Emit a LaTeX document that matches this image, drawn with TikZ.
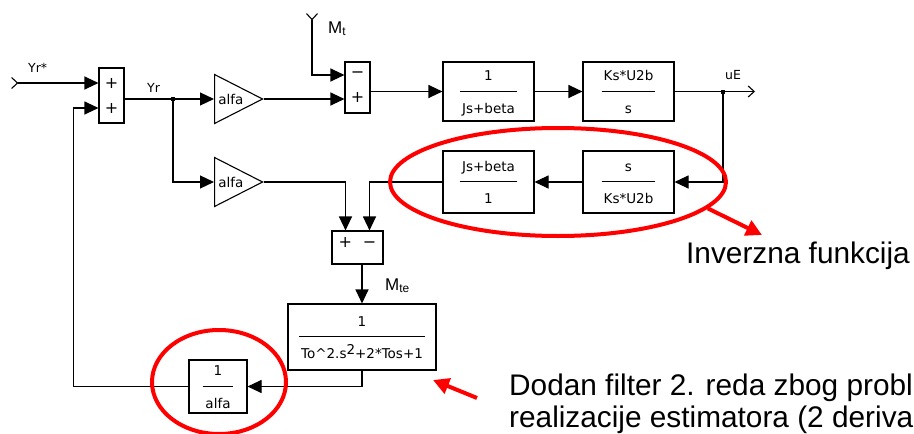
\documentclass[tikz,border=0pt]{standalone}
\usepackage{fontspec}
\setmainfont{DejaVu Sans}
\newfontfamily\annfont{Liberation Sans}
\usetikzlibrary{arrows.meta,shapes.geometric}
\setlength{\arrayrulewidth}{1pt}

\newcommand{\blkfr}[2]{\begin{tabular}{@{\hspace{2pt}}c@{\hspace{2pt}}}\rule[-10pt]{0pt}{25.5pt}#1\\\hline\rule[-4pt]{0pt}{25.5pt}#2\end{tabular}}
\newcommand{\twosgn}[2]{\vbox{\baselineskip=25pt\hbox{#1}\hbox{#2}}}

\tikzset{
  >={Triangle[length=14pt,width=13pt]},
  wire/.style={line width=1.1pt},
  blk/.style={draw, line width=1.1pt, inner sep=0pt, font=\fontsize{13.5}{15}\selectfont},
  sumblk/.style={draw, line width=1.1pt, inner sep=0pt, font=\fontsize{16}{18}\selectfont},
  gain/.style={draw, line width=1.1pt, isosceles triangle, isosceles triangle stretches,
    minimum width=49pt, minimum height=48pt, inner sep=1pt, anchor=west, font=\fontsize{13.5}{15}\selectfont},
  dotsq/.style={fill, minimum size=4pt, inner sep=0pt},
  inport/.style={line width=1.1pt, {Straight Barb[reversed,length=6pt,width=11pt]}->},
  outport/.style={line width=1.1pt, -{Straight Barb[length=6pt,width=11pt]}},
  lbl/.style={anchor=base west, inner sep=0pt, font=\fontsize{12.5}{14}\selectfont},
  mlbl/.style={anchor=base west, inner sep=0pt, font=\annfont\fontsize{17}{19}\selectfont},
  hl/.style={draw=red, line width=4pt, ellipse},
  hlarrow/.style={red, line width=4pt, -{Triangle[length=16pt,width=16pt]}},
  note/.style={anchor=base west, inner sep=0pt, align=left, font=\annfont\fontsize{29.8}{32}\selectfont},
}

\begin{document}
\begin{tikzpicture}[x=1pt,y=-1pt]
\useasboundingbox (0,0) rectangle (914,434);

\node[sumblk, minimum width=25pt, minimum height=55pt] (sumA) at (111.5,95.5) {\twosgn{+}{+}};
\node[gain] (gainA) at (214,99) {alfa};
\node[gain] (gainB) at (214,182) {alfa};
\node[sumblk, minimum width=25pt, minimum height=51pt] (sumB) at (357.5,87.5) {\twosgn{−}{+}};
\node[blk, minimum width=91pt, minimum height=59pt] (blkA) at (488.5,91.5) {\blkfr{1}{Js+beta}};
\node[blk, minimum width=91pt, minimum height=59pt] (blkB) at (628.5,91.5) {\blkfr{Ks*U2b}{s}};
\node[blk, minimum width=91pt, minimum height=62pt] (blkC) at (628.5,182) {\blkfr{s}{Ks*U2b}};
\node[blk, minimum width=91pt, minimum height=62pt] (blkD) at (488.5,182) {\blkfr{Js+beta}{1}};
\node[sumblk, minimum width=51pt, minimum height=33pt, text height=10pt, text depth=10pt] (sumC) at (357.5,247.5) {+\hspace{11pt}−};
\node[blk, minimum width=148pt, minimum height=66pt] (blkE) at (362,337) {\blkfr{1}{To\^{}2.s\raisebox{4pt}{2}+2*Tos+1}};
\node[blk, minimum width=58pt, minimum height=53pt] (blkF) at (218,386.5) {\blkfr{1}{alfa}};

\node[dotsq] (dYr) at (173,99) {};
\node[dotsq] (dUe) at (723,91.5) {};
\coordinate (yrin) at (11,83);
\coordinate (mtin) at (312,13);
\coordinate (ueout) at (755,91.5);

\draw[inport] (yrin) -- (yrin -| sumA.west);
\draw[wire] (sumA.east |- dYr) -- (dYr);
\draw[wire,->] (dYr) -- (gainA.west);
\draw[wire,->] (dYr) |- (gainB.west);
\draw[inport] (mtin) |- ([yshift=12.5pt]sumB.west);
\draw[wire,->] (gainA.east) -- (gainA.east -| sumB.west);
\draw[wire,->] (sumB.east |- blkA.west) -- (blkA.west);
\draw[wire,->] (blkA.east) -- (blkB.west);
\draw[wire] (blkB.east) -- (dUe);
\draw[outport] (dUe) -- (ueout);
\draw[wire,->] (dUe) |- (blkC.east);
\draw[wire,->] (blkC.west) -- (blkD.east);
\draw[wire,->] (blkD.west) -| ([xshift=12pt]sumC.north);
\draw[wire,->] (gainB.east) -| ([xshift=-12pt]sumC.north);
\draw[wire,->] (blkE.north |- sumC.south) -- (blkE.north);
\draw[wire,->] (blkE.south) |- (blkF.east);
\draw[wire,->] (blkF.west) -- ++(-115,0) |- ([yshift=-12.5pt]sumA.west);

\node[lbl] (lYrs) at (28,72) {Yr*};
\node[lbl] (lYr) at (147,92) {Yr};
\node[lbl] (lUe) at (725,79) {uE};
\node[mlbl] (lMt) at (328,33) {M\textsubscript{t}};
\node[mlbl] (lMte) at (385,290) {M\textsubscript{te}};

\node[hl, minimum width=336pt, minimum height=108pt] (inv) at (558,182) {};
\node[hl, minimum width=134pt, minimum height=104pt] (invF) at (219,382) {};
\node[note] (tInv) at (686,263) {Inverzna funkcija};
\node[note] (tFlt) at (509,427) {Dodan filter 2. reda zbog probl\\realizacije estimatora (2 deriva};
\coordinate (invtip) at (762,235);
\coordinate (flttail) at (477,398);
\coordinate (flttip) at (433,380);
\draw[hlarrow] (inv.-10) -- (invtip);
\draw[hlarrow] (flttail) -- (flttip);
\end{tikzpicture}
\end{document}
